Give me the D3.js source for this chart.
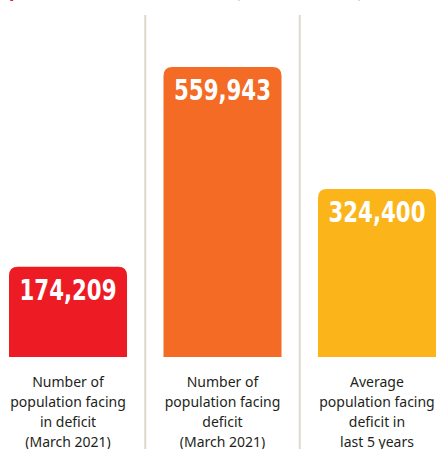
<!DOCTYPE html>
<html>
<head>
    <script src="https://d3js.org/d3.v7.min.js" charset="utf-8"></script>
    <style>
        body { margin: 0; background: #fff; }
    </style>
</head>
<body>
    <div id="viz"></div>

    <script type="text/javascript">

    // values
    var categories = ["deficit2021", "facing2021", "avg5y"];
    var values = [174209, 559943, 324400];
    var valueLabels = ["174,209", "559,943", "324,400"];
    var colors = ["#ed1c24", "#f36b24", "#fbb41a"];
    var captions = [
        ["Number of", "population facing", "in deficit", "(March 2021)"],
        ["Number of", "population facing", "deficit", "(March 2021)"],
        ["Average", "population facing", "deficit in", "last 5 years"]
    ];

    var width = 437, height = 449;

    var svg = d3.select("#viz")
        .append("svg")
        .attr("width", width)
        .attr("height", height);

    var x = d3.scaleBand()
        .domain(categories)
        .range([9, 436])
        .paddingInner(0.236)
        .paddingOuter(0);

    var y = d3.scaleLinear()
        .domain([0, d3.max(values)])
        .range([357, 67]);

    // title is cut off above the frame, only descenders show
    var title = svg.append("text")
        .attr("y", -3)
        .style("font-family", "Lato, sans-serif")
        .style("font-weight", "bold")
        .style("font-size", "22px")
        .style("fill", "#ed1c24");
    title.append("tspan").attr("x", 9).text("p");
    title.append("tspan").attr("x", 235).text("(");
    title.append("tspan").attr("x", 357).text(")");

    // dividers between the columns
    var step = x.step();
    svg.selectAll("line.div")
        .data(categories.slice(1))
        .enter().append("line")
        .attr("class", "div")
        .attr("x1", function(d){ return x(d) - (step - x.bandwidth()) / 2; })
        .attr("x2", function(d){ return x(d) - (step - x.bandwidth()) / 2; })
        .attr("y1", 15)
        .attr("y2", height)
        .style("stroke", "#dcd8cb")
        .style("stroke-width", 2);

    // bar with rounded top corners
    function barPath(x0, y0, w, h, r){
        return "M" + x0 + "," + (y0 + h) +
            "V" + (y0 + r) +
            "Q" + x0 + "," + y0 + " " + (x0 + r) + "," + y0 +
            "H" + (x0 + w - r) +
            "Q" + (x0 + w) + "," + y0 + " " + (x0 + w) + "," + (y0 + r) +
            "V" + (y0 + h) + "Z";
    }

    svg.selectAll("path.bar")
        .data(values)
        .enter().append("path")
        .attr("class", "bar")
        .attr("d", function(d, i){
            return barPath(x(categories[i]), y(d), x.bandwidth(), y(0) - y(d), 9);
        })
        .style("fill", function(d, i){ return colors[i]; });

    svg.selectAll("text.val")
        .data(values)
        .enter().append("text")
        .attr("class", "val")
        .attr("x", function(d, i){ return x(categories[i]) + x.bandwidth() / 2; })
        .attr("y", function(d){ return y(d) + 33; })
        .attr("text-anchor", "middle")
        .attr("textLength", 97)
        .attr("lengthAdjust", "spacingAndGlyphs")
        .style("font-family", "'DejaVu Sans Condensed', 'DejaVu Sans', sans-serif")
        .style("font-weight", "bold")
        .style("font-size", "28px")
        .style("fill", "#fff")
        .text(function(d, i){ return valueLabels[i]; });

    var cap = svg.selectAll("text.cap")
        .data(captions)
        .enter().append("text")
        .attr("class", "cap")
        .attr("text-anchor", "middle")
        .style("font-family", "'Noto Sans', sans-serif")
        .style("font-size", "14px")
        .style("fill", "#231f20");

    cap.selectAll("tspan")
        .data(function(d, i){ return d.map(function(s){ return {s: s, i: i}; }); })
        .enter().append("tspan")
        .attr("x", function(d){ return x(categories[d.i]) + x.bandwidth() / 2; })
        .attr("y", function(d, j){ return 387 + j * 20; })
        .text(function(d){ return d.s; });

    </script>
</body>
</html>
